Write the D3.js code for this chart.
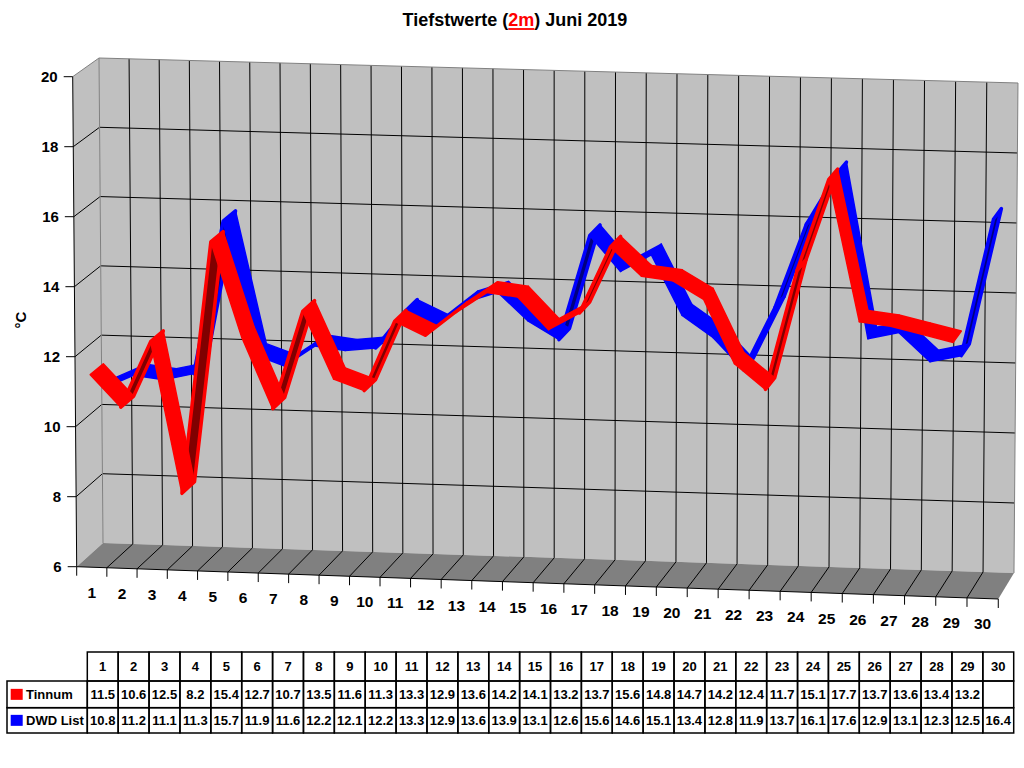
<!DOCTYPE html>
<html><head><meta charset="utf-8">
<script src="https://cdn.jsdelivr.net/npm/d3@7"></script>
<style>body{margin:0;background:#fff}svg{display:block}text{font-family:Arial,"Liberation Sans",sans-serif;font-weight:bold}</style>
</head><body>
<svg id="c" width="1024" height="768"></svg>
<script>
// ---- data ----
const days = d3.range(1, 31);
const tinnum = [11.5,10.6,12.5,8.2,15.4,12.7,10.7,13.5,11.6,11.3,13.3,12.9,13.6,14.2,14.1,13.2,13.7,15.6,14.8,14.7,14.2,12.4,11.7,15.1,17.7,13.7,13.6,13.4,13.2,null];
const dwd = [10.8,11.2,11.1,11.3,15.7,11.9,11.6,12.2,12.1,12.2,13.3,12.9,13.6,13.9,13.1,12.6,15.6,14.6,15.1,13.4,12.8,11.9,13.7,16.1,17.6,12.9,13.1,12.3,12.5,16.4];
const yTicks = [6,8,10,12,14,16,18,20];
const seriesNames = ["Tinnum","DWD List"];

// ---- geometry ----
const svg = d3.select("#c");
const y = d3.scaleLinear().domain([6,20]).range([0,1]);
const x = d3.scaleLinear().domain([0,30]).range([0,1]);
const FL_B=[76.7,566.7], FL_T=[72.7,76.7], BL_B=[103,543], BL_T=[99,58],
      BR_B=[1014,573], BR_T=[1018,83], FR_B=[998.3,599], FR_T=[1002.3,103];
function warp(u){ return (30.14*30*u + 0.0193*900*u*u)/921.6; }
function bil(a,b,c,d,u,z){ // a=FL b=FR c=BL d=BR
  return [0,1].map(k => (1-u)*(1-z)*a[k] + u*(1-z)*b[k] + (1-u)*z*c[k] + u*z*d[k]);
}
function P(u, v, z){
  const uw = warp(u);
  const f = bil(FL_B,FR_B,BL_B,BR_B,uw,z), t = bil(FL_T,FR_T,BL_T,BR_T,uw,z);
  const s = y(v);
  return [f[0]+(t[0]-f[0])*s, f[1]+(t[1]-f[1])*s];
}
const poly = pts => "M"+pts.map(p=>p[0].toFixed(2)+","+p[1].toFixed(2)).join("L")+"Z";
const line = (a,b,col,w) => svg.append("line").attr("x1",a[0]).attr("y1",a[1]).attr("x2",b[0]).attr("y2",b[1]).attr("stroke",col).attr("stroke-width",w||1);

// walls
svg.append("path").attr("d", poly([P(0,6,0),P(0,20,0),P(0,20,1),P(0,6,1)])).attr("fill","#c0c0c0");
svg.append("path").attr("d", poly([P(0,6,1),P(0,20,1),P(1,20,1),P(1,6,1)])).attr("fill","#c0c0c0");
svg.append("path").attr("d", poly([P(0,6,0),P(0,6,1),P(1,6,1),P(1,6,0)])).attr("fill","#808080");

// gridlines
yTicks.filter(v=>v>6 && v<20).forEach(v=>{
  line(P(0,v,0),P(0,v,1),"#000");
  line(P(0,v,1),P(1,v,1),"#000");
});
d3.range(1,30).forEach(i=>{
  line(P(x(i),6,1),P(x(i),20,1),"#000");
  line(P(x(i),6,0),P(x(i),6,1),"#000");
});
// edges
line(P(0,20,0),P(0,20,1),"#808080");
line(P(0,20,1),P(1,20,1),"#808080");
line(P(0,6,1),P(0,20,1),"#808080");
line(P(1,6,1),P(1,20,1),"#808080");
// axes
line(P(0,6,0),P(0,20,0),"#000");
line(P(0,6,0),P(1,6,0),"#000");
d3.range(0,31).forEach(i=>{ const p=P(x(i),6,0); line(p,[p[0],p[1]+9],"#000"); });
yTicks.forEach(v=>{
  const p=P(0,v,0); line([p[0]-9,p[1]],p,"#000");
  svg.append("text").attr("x",p[0]-15).attr("y",p[1]).attr("dy","0.36em").attr("text-anchor","end").attr("font-size",15).text(v);
});
days.forEach((d,i)=>{
  const p=P(x(i+0.5),6,0);
  svg.append("text").attr("x",p[0]).attr("y",p[1]+25).attr("dy","0.36em").attr("text-anchor","middle").attr("font-size",15.5).text(d);
});
svg.append("text").attr("transform","translate(21,320) rotate(-90)").attr("text-anchor","middle").attr("dy","0.36em").attr("font-size",15).text("°C");

// ribbons
function ribbon(vals, z0, z1, col, dark){
  const g = svg.append("g");
  const faces = [];
  for(let i=0;i<vals.length-1;i++){
    if(vals[i]==null||vals[i+1]==null) continue;
    const u0=x(i+0.5), u1=x(i+1.5);
    const A0=P(u0,vals[i],z0), B0=P(u1,vals[i+1],z0), B1=P(u1,vals[i+1],z1), A1=P(u0,vals[i],z1);
    const cr=(B0[0]-A0[0])*(A1[1]-A0[1])-(B0[1]-A0[1])*(A1[0]-A0[0]);
    faces.push({pts:[A0,B0,B1,A1], under: cr>0});
  }
  faces.filter(f=>f.under).forEach(f=>g.append("path").attr("d",poly(f.pts)).attr("fill",dark).attr("stroke",col).attr("stroke-width",3.5).attr("stroke-linejoin","round"));
  faces.filter(f=>!f.under).forEach(f=>g.append("path").attr("d",poly(f.pts)).attr("fill",col).attr("stroke",col).attr("stroke-width",1.5).attr("stroke-linejoin","round"));
}
ribbon(dwd, 0.5, 1.0, "#0000ff", "#000080");
ribbon(tinnum, 0.0, 0.5, "#ff0000", "#800000");

// title
const tt = svg.append("text").attr("x",515).attr("y",26).attr("text-anchor","middle").attr("font-size",18);
tt.append("tspan").text("Tiefstwerte (");
const red = tt.append("tspan").attr("fill","#ff0000").text("2m");
tt.append("tspan").text(") Juni 2019");
const rn = red.node();
const sx = rn.getStartPositionOfChar(0).x, len = rn.getComputedTextLength();
svg.append("line").attr("x1",sx).attr("x2",sx+len).attr("y1",29).attr("y2",29).attr("stroke","#ff0000").attr("stroke-width",1.8);

// table
const tX0=7, tX1=87.3, cw=30.88, rows=[652,681,707.7,733];
const tg = svg.append("g");
const tr = (x0,y0,w,h)=>tg.append("rect").attr("x",x0).attr("y",y0).attr("width",w).attr("height",h).attr("fill","none").attr("stroke","#000").attr("stroke-width",1.5);
days.forEach((d,i)=>{
  const cx=tX1+i*cw;
  tr(cx,rows[0],cw,rows[1]-rows[0]);
  tr(cx,rows[1],cw,rows[2]-rows[1]);
  tr(cx,rows[2],cw,rows[3]-rows[2]);
  tg.append("text").attr("x",cx+cw/2).attr("y",(rows[0]+rows[1])/2).attr("dy","0.36em").attr("text-anchor","middle").attr("font-size",13).text(d);
  [tinnum,dwd].forEach((s,k)=>{
    if(s[i]!=null) tg.append("text").attr("x",cx+cw/2).attr("y",(rows[k+1]+rows[k+2])/2).attr("dy","0.36em").attr("text-anchor","middle").attr("font-size",13).text(s[i].toFixed(1));
  });
});
tr(tX0,rows[1],tX1-tX0,rows[2]-rows[1]);
tr(tX0,rows[2],tX1-tX0,rows[3]-rows[2]);
seriesNames.forEach((n,k)=>{
  const cy=(rows[k+1]+rows[k+2])/2;
  tg.append("rect").attr("x",10.7).attr("y",cy-5.5).attr("width",12).attr("height",11).attr("fill",k===0?"#ff0000":"#0000ff");
  tg.append("text").attr("x",26).attr("y",cy).attr("dy","0.36em").attr("font-size",13).text(n);
});
</script>
</body></html>
